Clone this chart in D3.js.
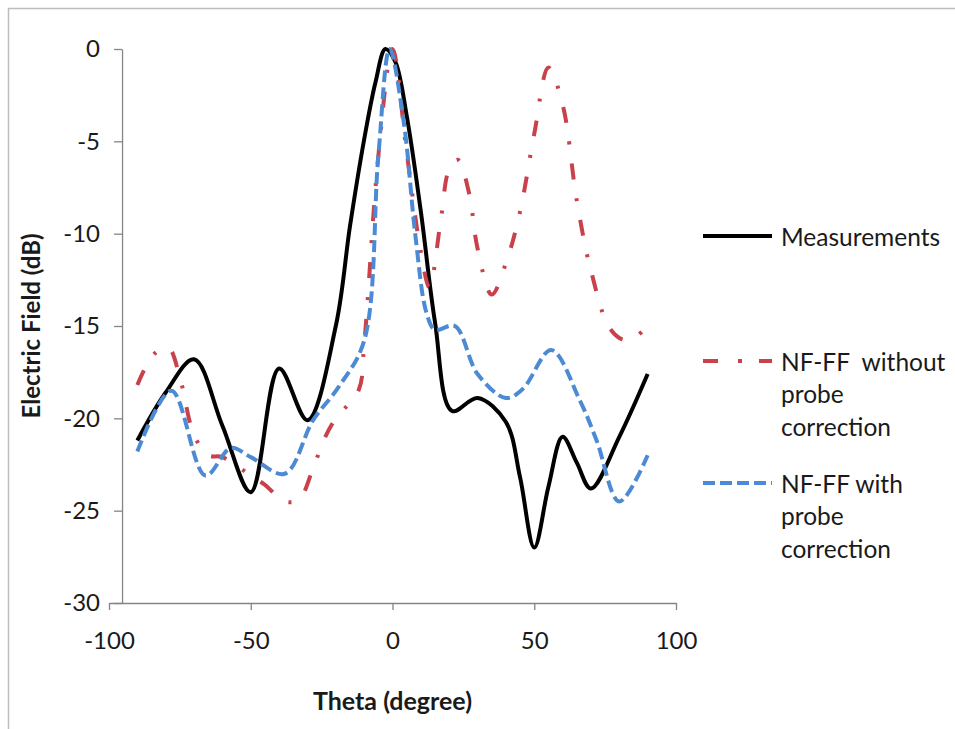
<!DOCTYPE html>
<html>
<head>
<meta charset="utf-8">
<script src="https://cdn.jsdelivr.net/npm/d3@7"></script>
<style>
  html, body { margin: 0; padding: 0; background: #ffffff; }
  svg { display: block; }
  text { font-family: Lato, "Open Sans", sans-serif; fill: #1a1a1a; }
</style>
</head>
<body>
<svg id="chart" width="955" height="729"></svg>
<script>
// ---- data ----
const xTicks = [-100, -50, 0, 50, 100];
const yTicks = [0, -5, -10, -15, -20, -25, -30];

const measTheta = [-90, -80, -70, -60, -50, -40, -30, -20, -15, -10, -6, -2.5, 1, 5, 10, 15, 21, 30, 40, 45, 50, 55, 60, 65, 70, 80, 90];
const measVal   = [-21.2, -18.6, -16.8, -20.4, -24.0, -17.3, -20.1, -15.0, -9.6, -4.9, -1.8, 0, -0.7, -3.6, -8.8, -14.8, -19.6, -18.9, -20.2, -23.2, -27.0, -23.7, -21.0, -22.4, -23.8, -21.0, -17.6];

const noCorrTheta = [-90, -84, -79, -75, -70, -65, -60, -50, -45, -38, -33, -28, -24, -20, -12, -10, -5, 0, 5, 10, 13, 17, 20, 23, 27, 30, 35, 40, 45, 50, 55, 60, 65, 70, 77, 83, 90];
const noCorrVal   = [-18.2, -16.5, -16.2, -17.8, -20.9, -22.0, -22.1, -23.1, -23.6, -24.5, -24.4, -22.7, -21.1, -20.0, -18.5, -16.0, -5.8, 0, -5.6, -11.0, -12.9, -9.3, -6.5, -6.0, -7.8, -10.8, -13.3, -11.6, -8.8, -4.6, -1.0, -3.0, -8.2, -12.0, -15.2, -15.8, -15.0];

const corrTheta = [-90, -78, -66, -57, -50, -38, -28, -19, -10, -5, -1, 4, 8, 12, 15, 22, 30, 40, 46, 56, 66, 72, 80, 90];
const corrVal   = [-21.8, -18.5, -23.1, -21.6, -22.1, -23.0, -20.1, -18.3, -15.8, -5.8, 0, -4.0, -10.0, -14.3, -15.2, -15.0, -17.6, -18.9, -18.4, -16.3, -19.0, -21.2, -24.5, -22.0];

const seriesNames = ["Measurements", "NF-FF  without probe correction", "NF-FF with probe correction"];
const legendLines = [["Measurements"], ["NF-FF  without", "probe", "correction"], ["NF-FF with", "probe", "correction"]];
const xTitle = "Theta (degree)";
const yTitle = "Electric Field (dB)";

// ---- drawing ----
const svg = d3.select("#chart");
const W = 955, H = 729;

// outer frame
svg.append("rect").attr("x", 8.5).attr("y", 8.5).attr("width", W + 20).attr("height", H + 20)
  .attr("fill", "#ffffff").attr("stroke", "#bdbdbd").attr("stroke-width", 1.5);

const x = d3.scaleLinear().domain([-100, 100]).range([109, 676]);
const y = d3.scaleLinear().domain([-30, 0]).range([603, 49]);
const yAxisAt = -95.4; // value of theta where the vertical axis crosses

const axisColor = "#858585";
const fmt = d => String(d); // plain hyphen-minus as in the reference

// X axis
const gx = svg.append("g").attr("transform", `translate(0,${y(-30)})`)
  .call(d3.axisBottom(x).tickValues(xTicks).tickFormat(fmt).tickSize(7).tickSizeOuter(0).tickPadding(22));
gx.select(".domain").attr("stroke", axisColor).attr("stroke-width", 1.3);
gx.selectAll(".tick line").attr("stroke", axisColor).attr("stroke-width", 1.3);
gx.selectAll(".tick text").attr("font-size", 24).attr("font-family", "Lato").attr("fill", "#1a1a1a");

// Y axis
const gy = svg.append("g").attr("transform", `translate(${x(yAxisAt)},0)`)
  .call(d3.axisLeft(y).tickValues(yTicks).tickFormat(fmt).tickSize(8).tickSizeOuter(0).tickPadding(14));
gy.select(".domain").attr("stroke", axisColor).attr("stroke-width", 1.3);
gy.selectAll(".tick line").attr("stroke", axisColor).attr("stroke-width", 1.3);
gy.selectAll(".tick text").attr("font-size", 24).attr("font-family", "Lato").attr("fill", "#1a1a1a");

// axis titles
svg.append("text").attr("x", x(0)).attr("y", 700).attr("text-anchor", "middle")
  .attr("dominant-baseline", "central").attr("font-size", 25).attr("font-weight", "bold").text(xTitle);
svg.append("text").attr("transform", `translate(30,${(y(0) + y(-30)) / 2}) rotate(-90)`)
  .attr("text-anchor", "middle").attr("dominant-baseline", "central")
  .attr("font-size", 24).attr("font-weight", "bold").text(yTitle);

const line = d3.line().x(d => x(d[0])).y(d => y(d[1])).curve(d3.curveCatmullRom.alpha(0.5));

const styles = [
  { color: "#000000", width: 4, dash: null },
  { color: "#c8414b", width: 4, dash: "16 19 3 19" },
  { color: "#4d8ad4", width: 4, dash: "12 5" }
];
const data = [
  d3.zip(measTheta, measVal),
  d3.zip(noCorrTheta, noCorrVal),
  d3.zip(corrTheta, corrVal)
];

[0, 1, 2].forEach(i => {
  svg.append("path").datum(data[i]).attr("d", line)
    .attr("fill", "none").attr("stroke", styles[i].color)
    .attr("stroke-width", styles[i].width)
    .attr("stroke-dasharray", styles[i].dash)
    .attr("stroke-linejoin", "round");
});

// legend
const legendY = [236, 361, 483];
const legX0 = 703, legX1 = 772, legTextX = 781, lineGap = 32.5;
legendLines.forEach((lines, i) => {
  svg.append("line").attr("x1", legX0).attr("x2", legX1)
    .attr("y1", legendY[i]).attr("y2", legendY[i])
    .attr("stroke", styles[i].color).attr("stroke-width", styles[i].width)
    .attr("stroke-dasharray", i === 1 ? "15 20 4 17" : styles[i].dash);
  lines.forEach((t, j) => {
    svg.append("text").attr("x", legTextX).attr("y", legendY[i] + j * lineGap)
      .attr("dominant-baseline", "central").attr("font-size", 24.5)
      .attr("xml:space", "preserve").style("white-space", "pre").text(t);
  });
});
</script>
</body>
</html>
